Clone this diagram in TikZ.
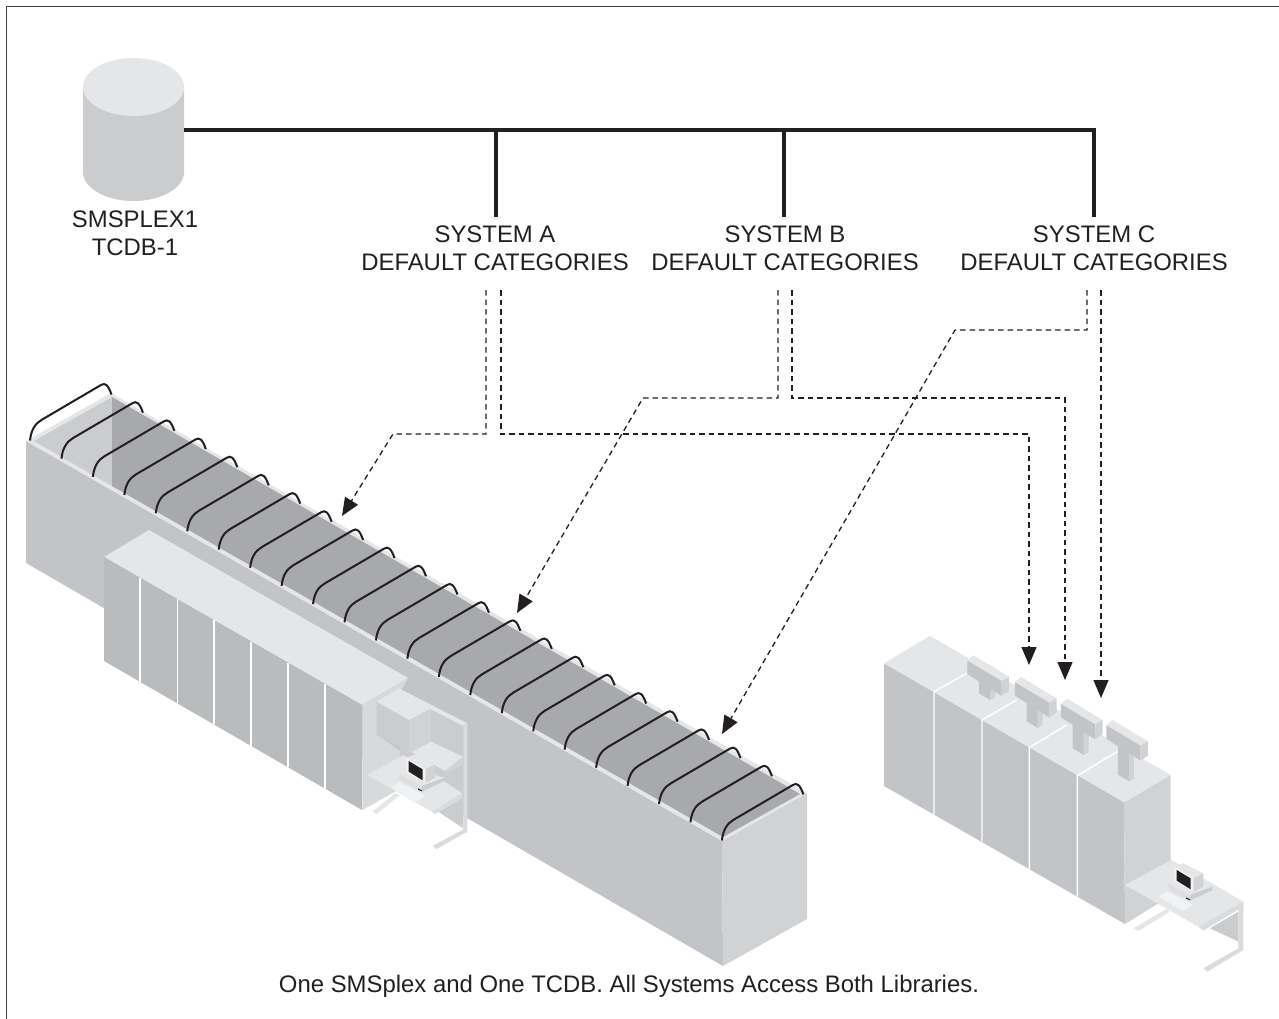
\documentclass[tikz,border=0pt]{standalone}
\usepackage{fontspec}
\setmainfont{Liberation Sans}
\usetikzlibrary{arrows.meta}
\definecolor{topc}{HTML}{E5E6E8}
\definecolor{facec}{HTML}{C3C4C7}
\definecolor{sidec}{HTML}{D1D2D4}
\definecolor{darkc}{HTML}{A8A9AC}
\definecolor{midc}{HTML}{CBCCCE}
\definecolor{cabc}{HTML}{B9BBBD}
\definecolor{inkc}{HTML}{231F20}
\definecolor{paleC}{HTML}{F1F2F3}
\tikzset{
  lab/.style={font=\fontsize{23.9}{28}\selectfont,align=center,text=inkc,inner sep=0pt},
  bus/.style={draw=inkc,line width=3.2pt},
  dash line/.style={draw=inkc,line width=1.3pt,dash pattern=on 5.5pt off 4pt,-{Triangle[length=18pt,width=15pt]}},
  rackarc/.style={draw=inkc,line width=2pt,line cap=butt},
  divider/.style={draw=white,line width=1.4pt},
}
\newcommand{\compu}[2]{%
\begin{scope}[shift={(#1,#2)},x=0.3333pt,y=-0.3333pt]
 \fill[paleC] (55,140)--(82,123)--(160,165)--(130,183)--cycle;
 \fill[topc] (82,100)--(115,82)--(217,110)--(150,135)--cycle;
 \fill[sidec!70!white] (82,100)--(150,135)--(150,152)--(82,117)--cycle;
 \fill[midc] (150,135)--(217,110)--(217,120)--(150,152)--cycle;
 \fill[inkc] (138,142)--(150,148)--(150,151)--(138,146)--cycle;
 \fill[topc] (103,50)--(130,40)--(190,70)--(160,85)--cycle;
 \fill[sidec] (160,85)--(190,70)--(190,110)--(160,125)--cycle;
 \fill[paleC] (103,50)--(160,85)--(160,125)--(103,95)--cycle;
 \fill[inkc] (110,60)--(152,85)--(152,118)--(110,92)--cycle;
\end{scope}}
\newcommand{\tunit}[3]{%
\begin{scope}[shift={(870,620)},x=0.3333pt,y=-0.3333pt]
\begin{scope}[shift={(#1*0.3333pt,-#2*0.3333pt)}]
 \fill[sidec] (360,200)--(375,190)--(375,232+#3)--(360,240+#3)--cycle;
 \fill[facec] (327,175)--(360,200)--(360,240+#3)--(327,220+#3)--cycle;
 \fill[topc] (292,122)--(310,106)--(417,170)--(395,183)--cycle;
 \fill[facec] (292,122)--(395,183)--(395,228)--(292,162)--cycle;
 \fill[sidec] (395,183)--(417,170)--(417,212)--(395,228)--cycle;
\end{scope}
\end{scope}}
\begin{document}
\begin{tikzpicture}[x=1pt,y=-1pt]
\useasboundingbox (0,0) rectangle (1279,1019);
\fill[white] (0,0) rectangle (1279,1019);
% frame
\draw[inkc!85!white,line width=1.5pt] (6.5,1019)--(6.5,6.5)--(1279,6.5);
% cylinder
\fill[midc] (83,87)--(83,172) arc[start angle=180,end angle=0,x radius=50.5,y radius=29] --(184,87)--cycle;
\fill[topc] (133.5,87) ellipse[x radius=50.5,y radius=29];
\coordinate (cylport) at (184,130);
\node[lab] (smsplex) at (135,233) {SMSPLEX1\\TCDB-1};
% long library
\fill[facec] (26,441)--(722,841)--(723,966)--(26,563)--cycle;
\fill[sidec] (722,841)--(807,793)--(807,919)--(723,966)--cycle;
\fill[topc] (26,441)--(111,393)--(807,793)--(722,841)--cycle;
\fill[midc] (34,441)--(112,397)--(112,486)--cycle;
\fill[darkc] (112,397)--(800,794)--(723,837)--(112,486)--cycle;
\foreach \i in {0,...,22}{
  \draw[rackarc,shift={({30+31.45*\i},{440.5+18.18*\i})}]
    (0,0) .. controls (1,-10) and (5,-17) .. (11.7,-20.7)
    -- (71,-55.5) .. controls (75,-58) and (78,-56) .. (81.5,-46);
}
% operator station of long library
\fill[topc] (104,557)--(149,530)--(408,678)--(362,705)--cycle;
\fill[cabc] (104,557)--(362,705)--(362,810)--(104,661)--cycle;
\foreach \x in {140,177.5,214,251,288,325}{
  \draw[divider] (\x,{557+(\x-104)*0.575}) -- (\x,{661+(\x-104)*0.577});
}
\begin{scope}[shift={(320,640)},x=0.3333pt,y=-0.3333pt]
 \fill[sidec!85!white] (127,195)--(263,115)--(172,285)--(250,340)--(250,430)--(225,455)--(127,510)--cycle;
 \fill[midc] (237,147)--(430,255)--(430,470)--(240,350)--cycle;
 \fill[midc] (350,512)--(430,470)--(430,565)--cycle;
 \fill[topc] (237,145)--(442,250)--(430,258)--(225,152)--cycle;
 \fill[topc!95!black] (430,252)--(442,250)--(442,575)--(350,627)--(338,618)--(430,568)--cycle;
 \fill[topc] (225,460)--(240,465)--(170,522)--(158,515)--cycle;
 \fill[topc] (272,335)--(333,305)--(430,350)--(375,393)--cycle;
 \fill[sidec] (375,393)--(430,350)--(430,375)--(380,400)--cycle;
 \fill[midc] (170,185)--(267,240)--(267,335)--(170,285)--cycle;
 \fill[sidec] (267,240)--(333,205)--(333,305)--(267,340)--cycle;
 \fill[topc] (170,185)--(237,147)--(333,205)--(267,240)--cycle;
 \fill[topc] (142,405)--(250,345)--(427,460)--(335,515)--cycle;
 \fill[topc!95!black] (335,515)--(427,460)--(427,475)--(345,522)--cycle;
\end{scope}
\compu{372}{741}
% right library
\fill[facec] (884,663)--(1124,802)--(1125,924)--(884,786)--cycle;
\begin{scope}[shift={(870,620)},x=0.3333pt,y=-0.3333pt]
 \fill[sidec] (762,547)--(902,465)--(902,725)--(765,798)--(890,835)--(765,912)--cycle;
 \fill[topc] (42,130)--(180,48)--(902,465)--(762,547)--cycle;
 \foreach \a/\b/\c/\d/\e in {192/215/583/290/160,336/300/665/440/240,478/383/748/590/315,622/467/830/745/393}{
   \draw[draw=white,line width=1.4pt] (\d,\e)--(\a,\b)--(\a,\c);
 }
 \fill[midc] (1020,925)--(1105,875)--(1105,965)--cycle;
 \fill[topc] (890,867)--(900,875)--(805,933)--(790,925)--cycle;
 \fill[topc!95!black] (1105,860)--(1120,845)--(1120,990)--(1012,1055)--(1000,1045)--(1105,985)--cycle;
 \fill[topc] (765,795)--(905,720)--(1120,845)--(985,920)--cycle;
 \fill[topc!95!black] (985,920)--(1120,845)--(1120,860)--(1000,932)--cycle;
\end{scope}
\tunit{0}{0}{0}
\tunit{143}{65}{19}
\tunit{281}{130}{35}
\tunit{417}{194}{50}
\compu{1140}{850}
% labels
\node[lab] (sysA) at (495,248) {SYSTEM A\\DEFAULT CATEGORIES};
\node[lab] (sysB) at (785,248) {SYSTEM B\\DEFAULT CATEGORIES};
\node[lab] (sysC) at (1094,248) {SYSTEM C\\DEFAULT CATEGORIES};
\node[lab] (caption) at (629,986) {One SMSplex and One TCDB. All Systems Access Both Libraries.};
% solid bus
\coordinate (topA) at (496,217);
\coordinate (topB) at (784,217);
\coordinate (topC) at (1094,217);
\draw[bus,line join=miter] (cylport) -- (cylport -| topC) -- (topC);
\draw[bus] (cylport -| topA) -- (topA);
\draw[bus] (cylport -| topB) -- (topB);
% dashed connectors
\coordinate (a1) at (486,290); \coordinate (a1b) at (486,434); \coordinate (a1c) at (393,434); \coordinate (a1e) at (342,516);
\coordinate (a2) at (501,290); \coordinate (a2b) at (501,434); \coordinate (a2e) at (1029,665);
\coordinate (b1) at (778,290); \coordinate (b1b) at (778,398); \coordinate (b1c) at (643,398); \coordinate (b1e) at (517,613);
\coordinate (b2) at (792,290); \coordinate (b2b) at (792,398); \coordinate (b2e) at (1065,680);
\coordinate (c1) at (1087,290); \coordinate (c1b) at (1087,330); \coordinate (c1c) at (955,330); \coordinate (c1e) at (722,734);
\coordinate (c2) at (1101,290); \coordinate (c2e) at (1101,698);
\draw[dash line] (a1)--(a1b)--(a1c)--(a1e);
\draw[dash line] (a2)--(a2b)--(a2b -| a2e)--(a2e);
\draw[dash line] (b1)--(b1b)--(b1c)--(b1e);
\draw[dash line] (b2)--(b2b)--(b2b -| b2e)--(b2e);
\draw[dash line] (c1)--(c1b)--(c1c)--(c1e);
\draw[dash line] (c2)--(c2e);
\end{tikzpicture}
\end{document}
